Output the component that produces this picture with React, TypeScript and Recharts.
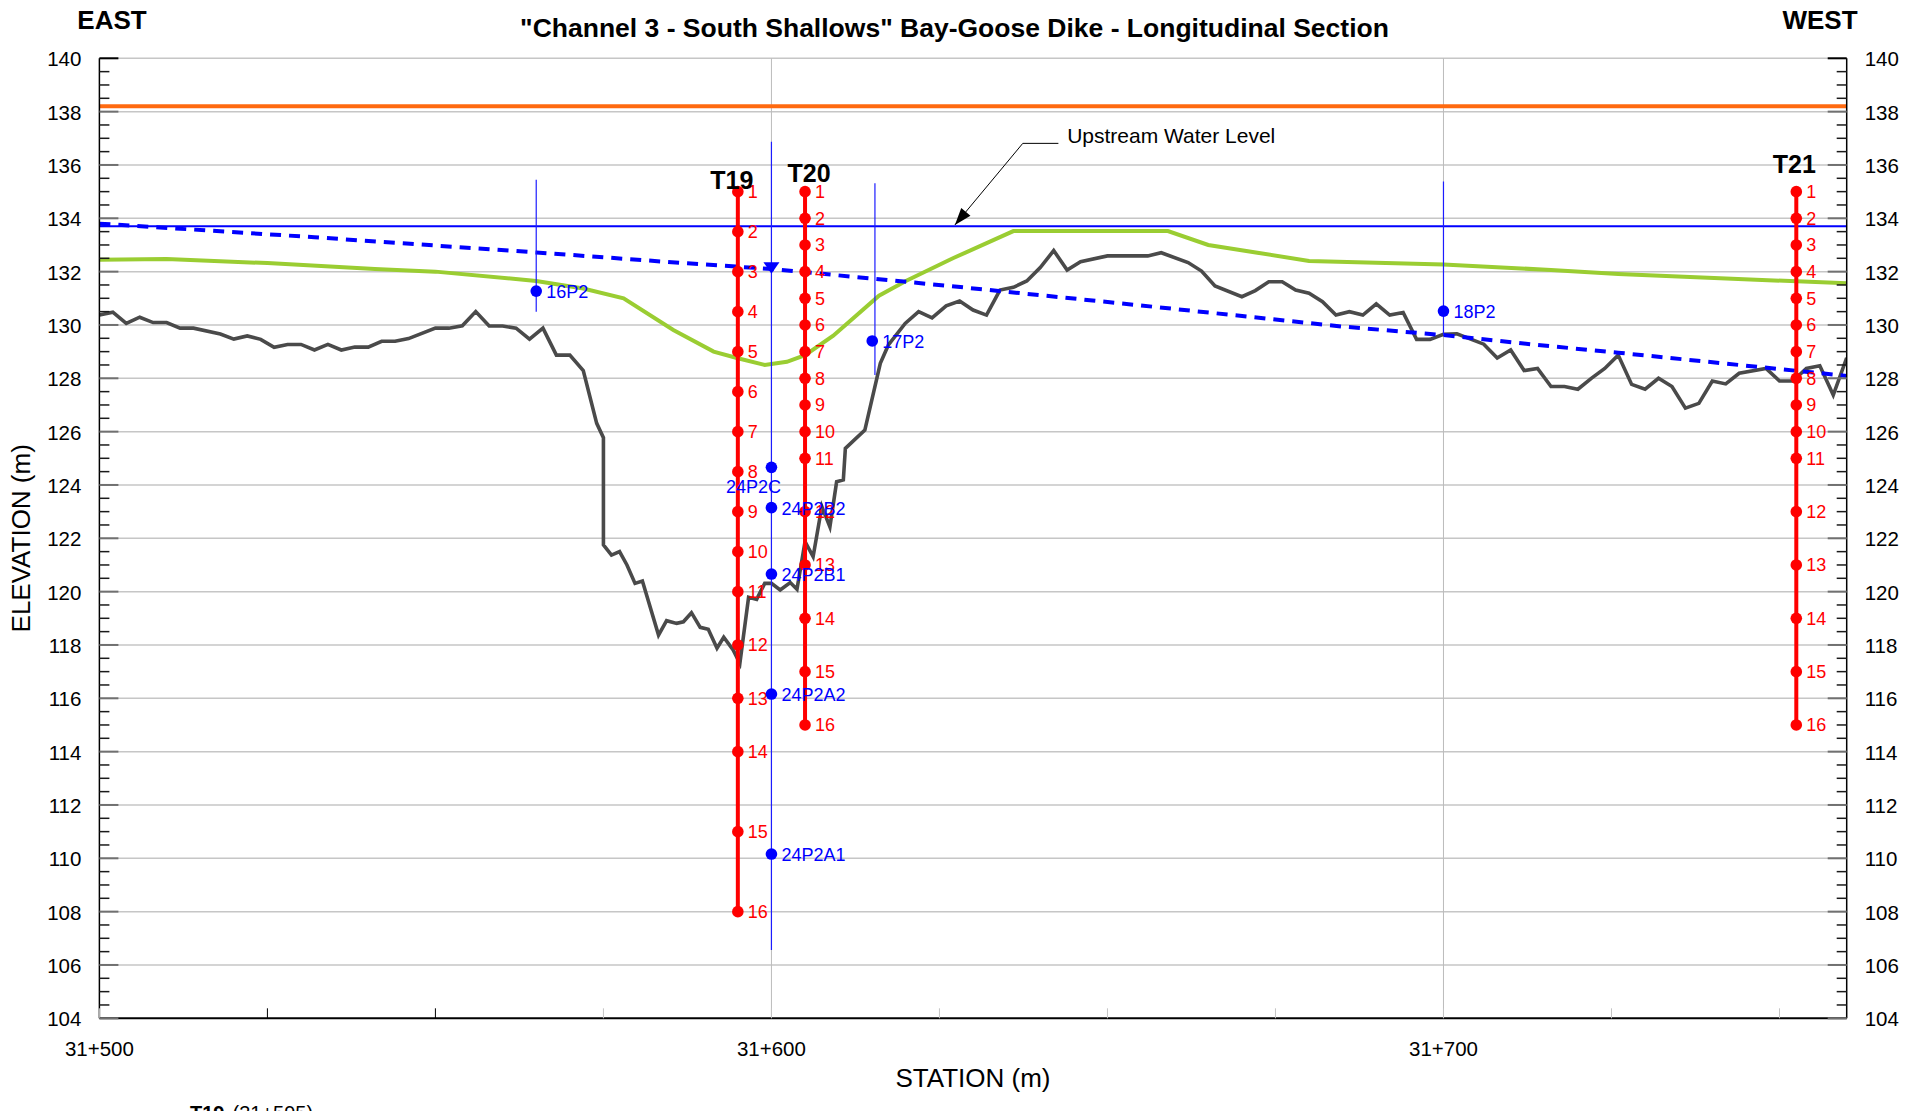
import React from 'react'
import { ComposedChart, Line, XAxis, YAxis, ReferenceLine, ReferenceDot } from 'recharts'

const FONT = '"Liberation Sans", Arial, Helvetica, sans-serif'

// axes
const stationDomain: [number, number] = [31500, 31760]
const elevDomain: [number, number] = [104, 140]
const stationTicks = [31500, 31525, 31550, 31575, 31600, 31625, 31650, 31675, 31700, 31725, 31750]
const stationLabels = [31500, 31600, 31700]
const stationGrid = [31600, 31700]
const elevLabels = [104, 106, 108, 110, 112, 114, 116, 118, 120, 122, 124, 126, 128, 130, 132, 134, 136, 138, 140]
const elevTicks = elevLabels.flatMap((v) => (v < 140 ? [v, v + 0.5, v + 1, v + 1.5] : [v]))

// horizontal levels
const crestLevel = 138.2
const upstreamWaterLevel = 133.7

// [station, elevation]
const groundProfile: [number, number][] = [
  [31500, 130.37], [31502, 130.48], [31504, 130.06], [31506, 130.29], [31508, 130.09], [31510, 130.09],
  [31512, 129.88], [31514, 129.88], [31518, 129.66], [31520, 129.47], [31522, 129.59], [31524, 129.46],
  [31526, 129.16], [31528, 129.27], [31530, 129.27], [31532, 129.06], [31534, 129.27], [31536, 129.06],
  [31538, 129.17], [31540, 129.17], [31542, 129.39], [31544, 129.39], [31546, 129.49], [31550, 129.88],
  [31552, 129.88], [31554, 129.97], [31556, 130.5], [31558, 129.96], [31560, 129.96], [31562, 129.88],
  [31564, 129.47], [31566, 129.88], [31568, 128.87], [31570, 128.87], [31572, 128.29], [31574, 126.31],
  [31575, 125.77], [31575, 121.75], [31576.2, 121.37], [31577.4, 121.5], [31578.5, 121.0], [31579.7, 120.31],
  [31580.8, 120.4], [31583.2, 118.37], [31584.4, 118.91], [31585.9, 118.81], [31586.9, 118.87], [31588.1, 119.21],
  [31589.4, 118.66], [31590.6, 118.59], [31591.9, 117.88], [31592.9, 118.29], [31594.3, 117.81], [31595.3, 117.31],
  [31596.6, 119.79], [31597.8, 119.71], [31599, 120.31], [31600, 120.31], [31601.3, 120.06], [31602.8, 120.34],
  [31603.8, 120.09], [31605, 121.87], [31606.2, 121.31], [31607.5, 123.19], [31608.7, 122.43], [31609.7, 124.12],
  [31610.7, 124.19], [31611, 125.37], [31613.9, 126.06], [31616.2, 128.56], [31617.4, 129.25], [31619.9, 130.06],
  [31621.9, 130.5], [31623.9, 130.27], [31626, 130.72], [31628, 130.9], [31630, 130.56], [31632, 130.37],
  [31634, 131.31], [31636, 131.41], [31638, 131.65], [31640, 132.15], [31642, 132.79], [31644, 132.06],
  [31646, 132.37], [31650, 132.59], [31656, 132.59], [31658, 132.71], [31662, 132.34], [31664, 132.02],
  [31666, 131.46], [31670, 131.06], [31672, 131.29], [31674, 131.62], [31676, 131.62], [31678, 131.31],
  [31680, 131.19], [31682, 130.87], [31684, 130.37], [31686, 130.5], [31688, 130.37], [31690, 130.79],
  [31692, 130.37], [31694, 130.47], [31696, 129.46], [31698, 129.46], [31700, 129.65], [31702, 129.67],
  [31706, 129.28], [31708, 128.76], [31710, 129.06], [31712, 128.29], [31714, 128.37], [31716, 127.69],
  [31718, 127.69], [31720, 127.59], [31722, 128.0], [31724, 128.37], [31726, 128.87], [31728, 127.77],
  [31730, 127.59], [31732, 128.0], [31734, 127.69], [31736, 126.88], [31738, 127.06], [31740, 127.9],
  [31742, 127.79], [31744, 128.19], [31748, 128.37], [31750, 127.9], [31752, 127.9], [31754, 128.37],
  [31756, 128.47], [31758, 127.37], [31760, 128.77],
]

const dikeSurface: [number, number][] = [
  [31500, 132.45], [31510, 132.47], [31525, 132.32], [31541, 132.1], [31550, 132.0], [31565, 131.65],
  [31572, 131.37], [31578, 131.0], [31585.4, 129.81], [31591.4, 129.0], [31595, 128.75], [31599, 128.5],
  [31602.3, 128.62], [31605, 128.87], [31609.2, 129.6], [31616, 131.1], [31620, 131.65], [31627, 132.5],
  [31636, 133.52], [31659, 133.52], [31665, 133.0], [31680, 132.4], [31700, 132.27], [31716, 132.06],
  [31726, 131.91], [31760, 131.56],
]

const phreaticLine: [number, number][] = [
  [31500, 133.8], [31532, 133.29], [31565, 132.72], [31587.5, 132.31], [31600, 132.1], [31626.6, 131.46],
  [31652, 130.81], [31685, 129.94], [31700, 129.62], [31714, 129.25], [31726, 128.96], [31760, 128.09],
]

const boreholes = [
  { name: 'T19', st: 31595, el: [135, 133.5, 132, 130.5, 129, 127.5, 126, 124.5, 123, 121.5, 120, 118, 116, 114, 111, 108] },
  { name: 'T20', st: 31605, el: [135, 134, 133, 132, 131, 130, 129, 128, 127, 126, 125, 123, 121, 119, 117, 115] },
  { name: 'T21', st: 31752.5, el: [135, 134, 133, 132, 131, 130, 129, 128, 127, 126, 125, 123, 121, 119, 117, 115] },
]

const piezoStems = [
  { st: 31565, top: 135.45, bottom: 130.5 },
  { st: 31615.4, top: 135.31, bottom: 128.12 },
  { st: 31600, top: 136.87, bottom: 106.56 },
  { st: 31700, top: 135.38, bottom: 129.62 },
]

const piezometers = [
  { name: '16P2', st: 31565, el: 131.27 },
  { name: '17P2', st: 31615, el: 129.4 },
  { name: '18P2', st: 31700, el: 130.52 },
  { name: '24P2C', st: 31600, el: 124.66 },
  { name: '24P2B2', st: 31600, el: 123.15 },
  { name: '24P2B1', st: 31600, el: 120.66 },
  { name: '24P2A2', st: 31600, el: 116.16 },
  { name: '24P2A1', st: 31600, el: 110.16 },
]

const waterMarker = { st: 31600, el: 132.15 }

const calloutText = 'Upstream Water Level'
const calloutTip = { st: 31627.3, el: 133.75 }
const calloutElbow = { st: 31637.4, el: 136.81 }
const calloutEnd = { st: 31642.7, el: 136.81 }
const calloutLabel = { st: 31644, el: 137.1 }

// layout
const W = 1923
const H = 1111
const Y_AXIS_W = 60
const X_AXIS_H = 50
const margin = { top: 58.3, right: 16.3, bottom: 42.7, left: 39.4 }
const Y_GAP = 18
const X_GAP = 38

const tLabelOffset: Record<string, [number, number]> = { T19: [-6, -3], T20: [4, -10], T21: [-2, -19] }
const piezoLabelOffset: Record<string, [number, number, 'start' | 'middle']> = { '24P2C': [-18, 26, 'middle'] }

const toPts = (arr: [number, number][]) => arr.map(([st, el]) => ({ st, el }))

const fmtStation = (v: number) => `${Math.floor(v / 1000)}+${String(v % 1000).padStart(3, '0')}`

function ElevTick({ x, y, payload, side }: any) {
  const v = payload.value
  const major = v % 2 === 0
  const dir = side === 'left' ? 1 : -1
  const ax = x + dir * Y_GAP
  const len = major ? 19 : 10
  return (
    <g>
      <line x1={ax} x2={ax + dir * len} y1={y} y2={y} stroke={major ? (v === 140 ? '#000' : '#707070') : '#1a1a1a'} strokeWidth={major ? 2 : 1.5} />
      {major && (
        <text x={x} y={y + 8} textAnchor={side === 'left' ? 'end' : 'start'} fontSize={20.5} fill="#000" fontFamily={FONT}>
          {v}
        </text>
      )}
    </g>
  )
}

function StationTick({ x, y, payload }: any) {
  const v = payload.value
  const ay = y - X_GAP
  const dark = v === 31525 || v === 31550
  return (
    <g>
      <line x1={x} x2={x} y1={ay} y2={ay - 10} stroke={dark ? '#000' : '#c4c4c4'} strokeWidth={1} />
      {stationLabels.includes(v) && (
        <text x={x} y={y} textAnchor="middle" fontSize={20.5} fill="#000" fontFamily={FONT}>
          {fmtStation(v)}
        </text>
      )}
    </g>
  )
}

function boreDot(name: string) {
  return (p: any) => {
    const { cx, cy, index } = p
    const [dx, dy] = tLabelOffset[name]
    return (
      <g key={`${name}-${index}`}>
        <circle cx={cx} cy={cy} r={5.8} fill="#ff0000" />
        <text x={cx + 10} y={cy + 6.5} fontSize={18} fill="#ff0000" fontFamily={FONT}>{index + 1}</text>
        {index === 0 && (
          <text x={cx + dx} y={cy + dy} textAnchor="middle" fontSize={25} fontWeight="bold" fill="#000" fontFamily={FONT}>
            {name}
          </text>
        )}
      </g>
    )
  }
}

function piezoDot(p: any) {
  const { cx, cy, index, payload } = p
  const [dx, dy, anchor] = piezoLabelOffset[payload.name] ?? [10, 7, 'start']
  return (
    <g key={`pz-${index}`}>
      <circle cx={cx} cy={cy} r={5.8} fill="#0000ff" />
      <text x={cx + dx} y={cy + dy} textAnchor={anchor} fontSize={18} fill="#0000ff" fontFamily={FONT}>{payload.name}</text>
    </g>
  )
}

export default function App() {
  return (
    <div style={{ position: 'absolute', left: 0, top: 0, width: W, height: H, overflow: 'hidden', background: '#fff', fontFamily: FONT }}>
      <ComposedChart width={W} height={H} margin={margin}>
        <XAxis
          dataKey="st" type="number" domain={stationDomain} ticks={stationTicks} interval={0}
          allowDataOverflow height={X_AXIS_H} tickSize={0} tickMargin={X_GAP}
          axisLine={{ stroke: '#000', strokeWidth: 2 }} tick={<StationTick />}
        />
        <YAxis
          type="number" domain={elevDomain} ticks={elevTicks} interval={0} allowDataOverflow
          width={Y_AXIS_W} tickSize={0} tickMargin={Y_GAP}
          axisLine={{ stroke: '#000', strokeWidth: 1.5 }} tick={<ElevTick side="left" />}
        />
        <YAxis
          yAxisId="right" orientation="right" type="number" domain={elevDomain} ticks={elevTicks} interval={0}
          allowDataOverflow width={Y_AXIS_W} tickSize={0} tickMargin={Y_GAP}
          axisLine={{ stroke: '#000', strokeWidth: 1.5 }} tick={<ElevTick side="right" />}
        />

        {/* grid */}
        {elevLabels.filter((v) => v > 104).map((v) => (
          <ReferenceLine key={`gy${v}`} y={v} stroke="#c6c6c6" strokeWidth={1.5} zIndex={-60} />
        ))}
        {stationGrid.map((v) => (
          <ReferenceLine key={`gx${v}`} x={v} stroke="#bcbcbc" strokeWidth={1} zIndex={-60} />
        ))}

        <ReferenceLine y={crestLevel} stroke="#ff6a10" strokeWidth={4} zIndex={-40} />
        <ReferenceLine y={upstreamWaterLevel} stroke="#0000ff" strokeWidth={2} zIndex={-40} />

        <Line data={toPts(dikeSurface)} dataKey="el" stroke="#9acd32" strokeWidth={4} dot={false} activeDot={false} isAnimationActive={false} />
        <Line data={toPts(groundProfile)} dataKey="el" stroke="#4a4a4a" strokeWidth={3.6} strokeLinejoin="miter" dot={false} activeDot={false} isAnimationActive={false} />
        <Line data={toPts(phreaticLine)} dataKey="el" stroke="#0000ff" strokeWidth={4} strokeDasharray="11 8" dot={false} activeDot={false} isAnimationActive={false} />

        {piezoStems.map((s, i) => (
          <Line
            key={`stem${i}`}
            data={[{ st: s.st, el: s.top }, { st: s.st, el: s.bottom }]}
            dataKey="el" stroke="#1c1cff" strokeWidth={1.2} dot={false} activeDot={false} isAnimationActive={false}
          />
        ))}

        {boreholes.map((b) => (
          <Line
            key={b.name}
            data={b.el.map((el) => ({ st: b.st, el }))}
            dataKey="el" stroke="#ff0000" strokeWidth={4} dot={boreDot(b.name)} activeDot={false} isAnimationActive={false}
          />
        ))}

        <Line data={piezometers} dataKey="el" stroke="none" dot={piezoDot} activeDot={false} isAnimationActive={false} />

        <ReferenceDot
          x={waterMarker.st} y={waterMarker.el} r={1} zIndex={700}
          shape={(p: any) => (
            <polygon points={`${p.cx - 8},${p.cy - 5.5} ${p.cx + 8},${p.cy - 5.5} ${p.cx},${p.cy + 6}`} fill="#0000ff" />
          )}
        />

        {/* callout */}
        <ReferenceLine
          segment={[{ x: calloutElbow.st, y: calloutElbow.el }, { x: calloutEnd.st, y: calloutEnd.el }]}
          stroke="#000" strokeWidth={1} zIndex={700}
        />
        <ReferenceLine
          segment={[{ x: calloutElbow.st, y: calloutElbow.el }, { x: calloutTip.st, y: calloutTip.el }]}
          stroke="#000" strokeWidth={1} zIndex={700}
        />
        <ReferenceDot
          x={calloutTip.st} y={calloutTip.el} r={1} zIndex={700}
          shape={(p: any) => (
            <polygon points="0,0 -17,-6 -17,6" transform={`translate(${p.cx},${p.cy}) rotate(130)`} fill="#000" />
          )}
        />
        <ReferenceDot
          x={calloutLabel.st} y={calloutLabel.el} r={1} zIndex={700}
          shape={(p: any) => (
            <text x={p.cx} y={p.cy + 7} fontSize={21} fill="#000" fontFamily={FONT}>{calloutText}</text>
          )}
        />
      </ComposedChart>

      <svg width={W} height={H} style={{ position: 'absolute', left: 0, top: 0, pointerEvents: 'none' }}>
        <text x={954.5} y={36.5} textAnchor="middle" fontSize={26.5} fontWeight="bold" fill="#000" fontFamily={FONT}>
          "Channel 3 - South Shallows" Bay-Goose Dike - Longitudinal Section
        </text>
        <text x={112} y={29.3} textAnchor="middle" fontSize={26} fontWeight="bold" fill="#000" fontFamily={FONT}>EAST</text>
        <text x={1820} y={29.3} textAnchor="middle" fontSize={26} fontWeight="bold" fill="#000" fontFamily={FONT}>WEST</text>
        <text transform="translate(30,538.3) rotate(-90)" textAnchor="middle" fontSize={26} fill="#000" fontFamily={FONT}>ELEVATION (m)</text>
        <text x={973} y={1087} textAnchor="middle" fontSize={26} fill="#000" fontFamily={FONT}>STATION (m)</text>
        <text x={190} y={1120} fontSize={20} fill="#000" fontFamily={FONT}>
          <tspan fontWeight="bold">T19</tspan>
          <tspan dx={8}>(31+595)</tspan>
        </text>
      </svg>
    </div>
  )
}
